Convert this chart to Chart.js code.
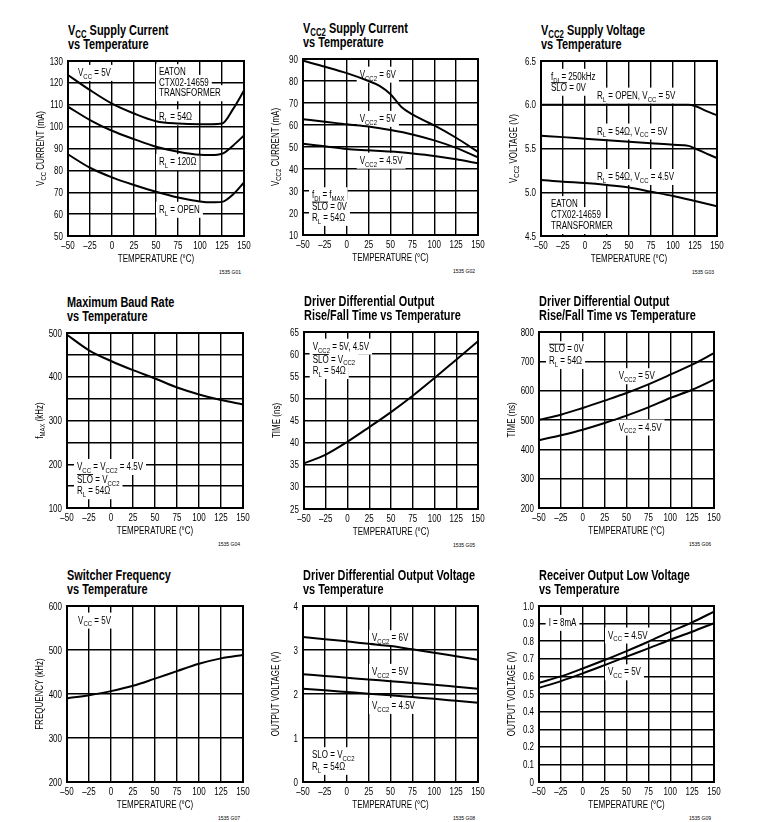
<!DOCTYPE html>
<html>
<head>
<meta charset="utf-8">
<script src="https://cdn.jsdelivr.net/npm/chart.js@4.4.0/dist/chart.umd.min.js"></script>
<style>
  body { margin: 0; background: #fff; width: 757px; height: 822px; position: relative; overflow: hidden;
         font-family: "Liberation Sans", Arial, sans-serif; }
  canvas { position: absolute; }
  .ttl { position: absolute; font-weight: bold; font-size: 14px; line-height: 14px; color: #000; white-space: nowrap;
         transform: scaleX(0.78); transform-origin: 0 0; }
  .ttl sub { font-size: 10px; vertical-align: -3px; line-height: 0; }
  .code { position: absolute; font-size: 5px; line-height: 5px; color: #000; white-space: nowrap; }
</style>
</head>
<body>
<script>
const FONT = '"Liberation Sans", Arial, sans-serif';
const SX = 0.8; // horizontal squeeze to imitate a condensed face

// Data
const TEMPS = [-50, -25, 0, 25, 50, 75, 100, 125, 150];

// G01 Vcc supply current (mA)
const vccTemps = [-50, -25, 0, 25, 50, 75, 100, 112.5, 125, 137.5, 150];
const vcc54 = [123.6, 116.7, 110.5, 106, 102.5, 101.4, 101.1, 101.1, 101.4, 108, 116.5];
const vcc120 = [109.1, 103, 98.1, 94.3, 90.8, 88.5, 87.1, 87, 87.6, 91.3, 96];
const vccOpen = [87.3, 81.2, 76.8, 73.3, 70.2, 67.6, 65.8, 65.4, 65.6, 69, 74.5];

// G02 Vcc2 supply current (mA)
const vcc2Temps6 = [-50, -25, 0, 25, 37.5, 50, 62.5, 75, 87.5, 100, 125, 150];
const vcc2I6 = [89.2, 86.5, 83.6, 80, 77.8, 74, 68.2, 64.8, 62.2, 59.8, 54.2, 47.8];
const vcc2I5 = [62.6, 61.5, 60.3, 59.3, 57.7, 55.7, 53, 49.6, 45.3];
const vcc2I45 = [51.5, 50.3, 49.1, 48.5, 47.9, 47, 45.9, 44.4, 42.6];

// G03 Vcc2 supply voltage (V)
const vcc2vTemps = [-50, -25, 0, 25, 50, 75, 100, 117.5, 125, 137.5, 150];
const vcc2vOpen = [6, 6, 6, 6, 6, 6, 6, 6, 5.985, 5.93, 5.88];
const vcc2v54 = [5.645, 5.63, 5.612, 5.595, 5.577, 5.56, 5.542, 5.53, 5.5, 5.445, 5.39];
const vcc2v54Low = [5.14, 5.12, 5.105, 5.083, 5.055, 5.006, 4.957, 4.9, 4.84];

// G04 max baud rate (kHz)
const fMax = [496, 460.5, 436, 415, 396, 375.5, 359.6, 346.7, 336.8];

// G05 rise/fall time, fast (ns)
const riseFast = [35.3, 37.3, 40.2, 43.5, 46.9, 50.6, 54.6, 58.75, 62.9];

// G06 rise/fall time, slow (ns)
const riseSlow5 = [501, 518, 541, 566, 592, 621.6, 654.5, 688.6, 728];
const riseSlow45 = [431, 448, 467, 490, 515, 543, 575, 603, 637.5];

// G07 switcher frequency (kHz)
const swFreq = [390, 397.3, 406.5, 418.6, 435, 452, 468.7, 481, 488.6];

// G08 driver differential output voltage (V)
const vod6 = [3.295, 3.245, 3.197, 3.14, 3.09, 3.015, 2.94, 2.86, 2.78];
const vod5 = [2.45, 2.41, 2.37, 2.33, 2.29, 2.25, 2.21, 2.165, 2.12];
const vod45 = [2.12, 2.085, 2.045, 2.005, 1.97, 1.93, 1.89, 1.845, 1.80];

// G09 receiver output low voltage (V)
const vol45 = [0.564, 0.60, 0.645, 0.693, 0.744, 0.797, 0.854, 0.907, 0.968];
const vol5 = [0.535, 0.573, 0.617, 0.664, 0.712, 0.759, 0.808, 0.854, 0.903];

const intLabel = v => String(v);
const oneDec = v => v.toFixed(1);

const panels = [
  { code: '1535 G01', title: 'V<sub>CC</sub> Supply Current<br>vs Temperature', yTitle: 'V_{CC} CURRENT (mA)',
    y: [50, 130, 10], label: intLabel, box: [68, 61, 176, 175],
    series: [[vccTemps, vcc54], [vccTemps, vcc120], [vccTemps, vccOpen]],
    notes: [['V_{CC} = 5V', -38.6, 124.8], ['EATON', 53.4, 125.1], ['CTX02-14659', 53.4, 120.2], ['TRANSFORMER', 53.4, 115.5],
            ['R_{L} = 54Ω', 53.4, 104.5], ['R_{L} = 120Ω', 53.4, 84], ['R_{L} = OPEN', 53.4, 62.2]] },
  { code: '1535 G02', title: 'V<sub>CC2</sub> Supply Current<br>vs Temperature', yTitle: 'V_{CC2} CURRENT (mA)',
    y: [10, 90, 10], label: intLabel, box: [303, 59, 175, 176],
    series: [[vcc2Temps6, vcc2I6], [TEMPS, vcc2I5], [TEMPS, vcc2I45]],
    notes: [['V_{CC2} = 6V', 14.8, 83.1], ['V_{CC2} = 5V', 14.8, 63], ['V_{CC2} = 4.5V', 14.8, 44],
            ['f_{DI} = f_{MAX}', -39.7, 28.3], ['~{SLO} = 0V', -39.7, 22.9], ['R_{L} = 54Ω', -39.7, 18]] },
  { code: '1535 G03', title: 'V<sub>CC2</sub> Supply Voltage<br>vs Temperature', yTitle: 'V_{CC2} VOLTAGE (V)',
    y: [4.5, 6.5, 0.5], label: oneDec, box: [541, 61, 176, 175],
    series: [[vcc2vTemps, vcc2vOpen], [vcc2vTemps, vcc2v54], [TEMPS, vcc2v54Low]],
    notes: [['f_{DI} = 250kHz', -38.6, 6.325], ['~{SLO} = 0V', -38.6, 6.2], ['R_{L} = OPEN, V_{CC} = 5V', 13.6, 6.11],
            ['R_{L} = 54Ω, V_{CC} = 5V', 13.6, 5.70], ['R_{L} = 54Ω, V_{CC} = 4.5V', 13.6, 5.18],
            ['EATON', -38.6, 4.87], ['CTX02-14659', -38.6, 4.745], ['TRANSFORMER', -38.6, 4.62]] },
  { code: '1535 G04', title: 'Maximum Baud Rate<br>vs Temperature', yTitle: 'f_{MAX} (kHz)',
    y: [100, 500, 50], label: v => (v % 100 === 0 ? String(v) : ''), box: [67, 333, 176, 175],
    series: [[TEMPS, fMax]],
    notes: [['V_{CC} = V_{CC2} = 4.5V', -38.6, 194.9], ['~{SLO} = V_{CC2}', -38.6, 166], ['R_{L} = 54Ω', -38.6, 139.5]] },
  { code: '1535 G05', title: 'Driver Differential Output<br>Rise/Fall Time vs Temperature', yTitle: 'TIME (ns)',
    y: [25, 65, 5], label: intLabel, box: [304, 332, 174, 177],
    series: [[TEMPS, riseFast]],
    notes: [['V_{CC2} = 5V, 4.5V', -40, 61.8], ['~{SLO} = V_{CC2}', -40, 58.9], ['R_{L} = 54Ω', -40, 56.3]] },
  { code: '1535 G06', title: 'Driver Differential Output<br>Rise/Fall Time vs Temperature', yTitle: 'TIME (ns)',
    y: [200, 800, 100], label: intLabel, box: [539, 332, 175, 176],
    series: [[TEMPS, riseSlow5], [TEMPS, riseSlow45]],
    notes: [['~{SLO} = 0V', -38.6, 743], ['R_{L} = 54Ω', -38.6, 703], ['V_{CC2} = 5V', 41, 651], ['V_{CC2} = 4.5V', 41, 476]] },
  { code: '1535 G07', title: 'Switcher Frequency<br>vs Temperature', yTitle: 'FREQUENCY (kHz)',
    y: [200, 600, 100], label: intLabel, box: [67, 606, 176, 176],
    series: [[TEMPS, swFreq]],
    notes: [['V_{CC} = 5V', -37.4, 568]] },
  { code: '1535 G08', title: 'Driver Differential Output Voltage<br>vs Temperature', yTitle: 'OUTPUT VOLTAGE (V)',
    y: [0, 4, 1], label: intLabel, box: [303, 606, 175, 176],
    series: [[TEMPS, vod6], [TEMPS, vod5], [TEMPS, vod45]],
    notes: [['V_{CC2} = 6V', 28.9, 3.28], ['V_{CC2} = 5V', 28.9, 2.515], ['V_{CC2} = 4.5V', 28.9, 1.74],
            ['SLO = V_{CC2}', -39.7, 0.62], ['R_{L} = 54Ω', -39.7, 0.356]] },
  { code: '1535 G09', title: 'Receiver Output Low Voltage<br>vs Temperature', yTitle: 'OUTPUT VOLTAGE (V)',
    y: [0, 1, 0.1], label: v => (Math.abs(v) < 1e-9 ? '0' : v.toFixed(1)), box: [539, 606, 175, 176],
    series: [[TEMPS, vol45], [TEMPS, vol5]],
    notes: [['I = 8mA', -39, 0.907], ['V_{CC} = 4.5V', 28.9, 0.835], ['V_{CC} = 5V', 28.9, 0.626]] }
];

// rich text: _{sub} and ~{overline}
function parseRich(s) {
  const out = [];
  s.replace(/_\{([^}]*)\}|~\{([^}]*)\}|([^_~]+)/g, (m, sub, over, txt) => {
    if (sub !== undefined) out.push({ t: sub, sub: true });
    else if (over !== undefined) out.push({ t: over, over: true });
    else out.push({ t: txt });
    return m;
  });
  return out;
}

function richWidth(ctx, segs, size) {
  let w = 0;
  segs.forEach(s => {
    ctx.font = (s.sub ? size * 0.75 : size) + 'px ' + FONT;
    w += ctx.measureText(s.t).width;
  });
  return w * SX;
}

function noteBox(ctx, str, x, y, size) {
  const w = richWidth(ctx, parseRich(str), size);
  ctx.fillStyle = '#fff';
  ctx.fillRect(x - 3, y - size * 0.75, w + 6, size * 1.6);
}

function drawRich(ctx, str, x, y, size, align) {
  const segs = parseRich(str);
  const w = richWidth(ctx, segs, size);
  const x0 = align === 'center' ? x - w / 2 : align === 'right' ? x - w : x;
  ctx.save();
  ctx.translate(x0, y + size * 0.36);
  ctx.scale(SX, 1);
  ctx.fillStyle = '#000';
  ctx.textAlign = 'left';
  ctx.textBaseline = 'alphabetic';
  let cx = 0;
  segs.forEach(s => {
    const fs = s.sub ? size * 0.75 : size;
    ctx.font = fs + 'px ' + FONT;
    const tw = ctx.measureText(s.t).width;
    ctx.fillText(s.t, cx, s.sub ? size * 0.28 : 0);
    if (s.over) ctx.fillRect(cx, -size * 0.86, tw, 0.9);
    cx += tw;
  });
  ctx.restore();
}

function decor(p) {
  return {
    id: 'decor',
    beforeDatasetsDraw(chart) {
      const ctx = chart.ctx, xs = chart.scales.x, ys = chart.scales.y;
      const pos = p.notes.map(n => [n[0], xs.getPixelForValue(n[1]), ys.getPixelForValue(n[2])]);
      pos.forEach(n => noteBox(ctx, n[0], n[1], n[2], 10));
      pos.forEach(n => drawRich(ctx, n[0], n[1], n[2], 10));
    },
    afterDraw(chart) {
      const ctx = chart.ctx, a = chart.chartArea, xs = chart.scales.x, ys = chart.scales.y;
      ctx.save();
      ctx.strokeStyle = '#000';
      ctx.lineWidth = 2;
      ctx.strokeRect(a.left, a.top, a.right - a.left, a.bottom - a.top);
      // tick labels
      xs.ticks.forEach(t => {
        const s = t.value < 0 ? '\u2013' + (-t.value) : String(t.value);
        drawRich(ctx, s, xs.getPixelForValue(t.value), a.bottom + 9, 10, 'center');
      });
      ys.ticks.forEach(t => {
        const s = p.label(t.value);
        if (s) drawRich(ctx, s, a.left - 5, ys.getPixelForValue(t.value), 10, 'right');
      });
      // axis titles
      drawRich(ctx, 'TEMPERATURE (°C)', (a.left + a.right) / 2, a.bottom + 22.5, 10, 'center');
      ctx.translate(a.left - 28, (a.top + a.bottom) / 2);
      ctx.rotate(-Math.PI / 2);
      drawRich(ctx, p.yTitle, 0, 0, 10, 'center');
      ctx.restore();
    }
  };
}

const PAD_L = 60, PAD_T = 10, PAD_R = 14, PAD_B = 45;

panels.forEach(p => {
  const [left, top, w, h] = p.box;

  const t = document.createElement('div');
  t.className = 'ttl';
  t.style.left = left + 'px';
  t.style.top = (top - 38) + 'px';
  t.innerHTML = p.title;
  document.body.appendChild(t);

  const c = document.createElement('div');
  c.className = 'code';
  c.textContent = p.code;
  c.style.right = (757 - (left + w) + 3) + 'px';
  c.style.top = (top + h + 34) + 'px';
  document.body.appendChild(c);

  const canvas = document.createElement('canvas');
  canvas.width = PAD_L + w + PAD_R;
  canvas.height = PAD_T + h + PAD_B;
  canvas.style.left = (left - PAD_L) + 'px';
  canvas.style.top = (top - PAD_T) + 'px';
  document.body.appendChild(canvas);

  const grid = { color: '#000', lineWidth: 1.4, drawTicks: false };
  new Chart(canvas, {
    type: 'line',
    data: {
      datasets: p.series.map(s => ({
        data: s[0].map((x, i) => ({ x, y: s[1][i] })),
        borderColor: '#000',
        borderWidth: 2,
        pointRadius: 0,
        cubicInterpolationMode: 'monotone',
        fill: false
      }))
    },
    options: {
      responsive: false,
      animation: false,
      events: [],
      layout: { padding: { top: PAD_T, right: PAD_R, left: 0, bottom: 0 } },
      plugins: { legend: { display: false }, tooltip: { enabled: false } },
      scales: {
        x: {
          type: 'linear', min: -50, max: 150,
          ticks: { stepSize: 25, autoSkip: false, display: false },
          grid, border: { display: false },
          afterFit(s) { s.height = PAD_B; }
        },
        y: {
          min: p.y[0], max: p.y[1],
          ticks: { stepSize: p.y[2], autoSkip: false, display: false },
          grid, border: { display: false },
          afterFit(s) { s.width = PAD_L; }
        }
      }
    },
    plugins: [decor(p)]
  });
});
</script>
</body>
</html>
